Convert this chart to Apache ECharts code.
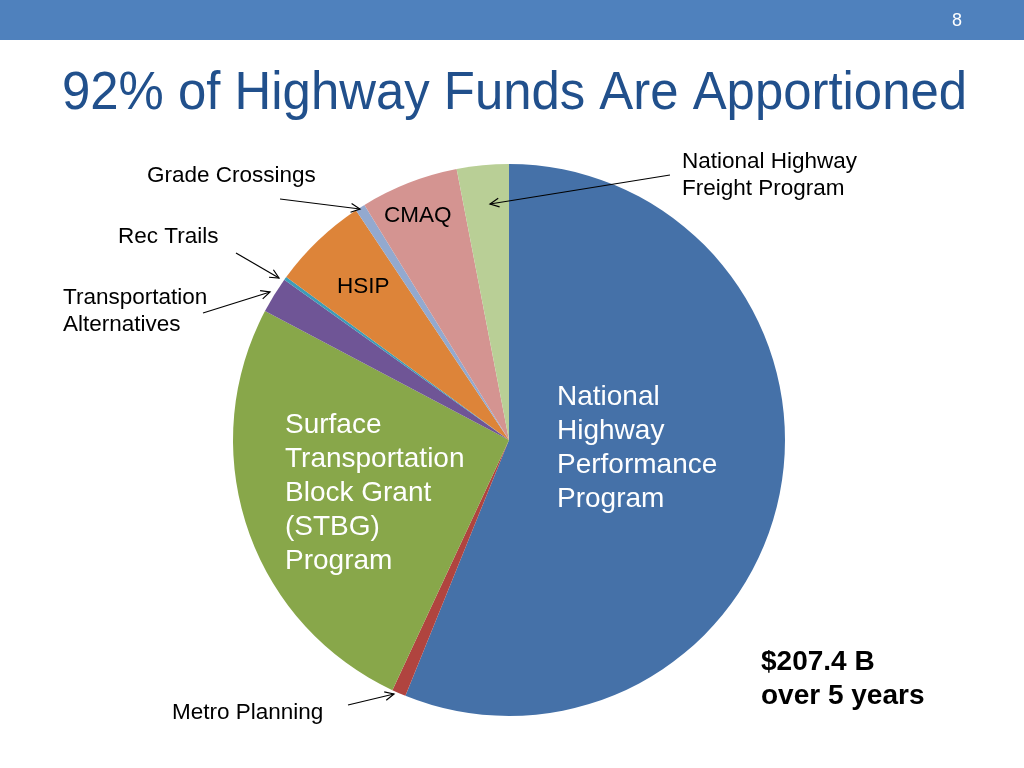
<!DOCTYPE html>
<html>
<head>
<meta charset="utf-8">
<script src="https://cdn.jsdelivr.net/npm/echarts@6/dist/echarts.min.js"></script>
<style>
html,body{margin:0;padding:0;background:#fff;}
#chart{width:1024px;height:768px;}
</style>
</head>
<body>
<div id="chart"></div>
<script>
// Data ($ billions, FY2016-2020), clockwise from 12 o'clock
const categories = ['National Highway Performance Program','Metro Planning','Surface Transportation Block Grant (STBG) Program','Transportation Alternatives','Rec Trails','HSIP','Grade Crossings','CMAQ','National Highway Freight Program'];
const values = [116.4, 1.7, 53.5, 4.4, 0.4, 11.6, 1.2, 11.9, 6.3];
const colors = ['#4571a8','#b0443f','#88a74a','#6f5596','#3d9cb8','#dd8439','#93a9cf','#d49491','#b9cf96'];
const titleText = '92% of Highway Funds Are Apportioned';
const totalText = ['$207.4 B','over 5 years'];
const pageNumber = '8';

const chart = echarts.init(document.getElementById('chart'));
const FONT = 'Liberation Sans';

function txt(x, y, text, size, opts) {
  opts = opts || {};
  return {
    type: 'text', x: x, y: y, z: 100, scaleX: opts.scaleX || 1,
    style: {
      text: text, fill: opts.color || '#000',
      fontFamily: FONT, fontSize: size, fontWeight: opts.bold ? 'bold' : 'normal',
      textAlign: opts.align || 'left', textVerticalAlign: 'middle', lineHeight: opts.lh || size * 1.2
    },
    silent: true
  };
}
function arrow(x1, y1, x2, y2) {
  const a = Math.atan2(y2 - y1, x2 - x1), L = 10, w = 0.45;
  const p1 = [x2 - L * Math.cos(a - w), y2 - L * Math.sin(a - w)];
  const p2 = [x2 - L * Math.cos(a + w), y2 - L * Math.sin(a + w)];
  return {
    type: 'group', silent: true, z: 100,
    children: [
      {type: 'line', z: 100, shape: {x1: x1, y1: y1, x2: x2, y2: y2}, style: {stroke: '#000', lineWidth: 1.2}},
      {type: 'polyline', z: 100, shape: {points: [p1, [x2, y2], p2]}, style: {stroke: '#000', lineWidth: 1.2, fill: null}}
    ]
  };
}

chart.setOption({
  backgroundColor: '#fff',
  animation: false,
  series: [{
    type: 'pie',
    z: 2,
    center: [509, 440],
    radius: [0, 276],
    startAngle: 90,
    clockwise: true,
    silent: true,
    label: {show: false},
    labelLine: {show: false},
    itemStyle: {borderWidth: 0},
    data: categories.map((c, i) => ({name: c, value: values[i], itemStyle: {color: colors[i]}}))
  }],
  graphic: [
    {type: 'rect', z: 100, shape: {x: 0, y: 0, width: 1024, height: 40}, style: {fill: '#4f81bd'}, silent: true},
    txt(957, 21, pageNumber, 18, {color: '#fff', align: 'center'}),
    txt(62, 94, titleText, 53, {color: '#21508c', scaleX: 0.96}),
    txt(147, 176, 'Grade Crossings', 22.5),
    txt(118, 237, 'Rec Trails', 22.5),
    txt(63, 311, 'Transportation\nAlternatives', 22.5, {lh: 27}),
    txt(384, 216, 'CMAQ', 22.5),
    txt(337, 287, 'HSIP', 22.5),
    txt(682, 175, 'National Highway\nFreight Program', 22.5, {lh: 27}),
    txt(172, 713, 'Metro Planning', 22.5),
    txt(557, 448, 'National\nHighway\nPerformance\nProgram', 28, {color: '#fff', lh: 34}),
    txt(285, 493, 'Surface\nTransportation\nBlock Grant\n(STBG)\nProgram', 28, {color: '#fff', lh: 34}),
    txt(761, 679, totalText.join('\n'), 28, {bold: true, lh: 34}),
    arrow(280, 199, 360, 209),
    arrow(236, 253, 279, 278),
    arrow(203, 313, 270, 292),
    arrow(670, 175, 490, 204),
    arrow(348, 705, 394, 694)
  ]
});
</script>
</body>
</html>
